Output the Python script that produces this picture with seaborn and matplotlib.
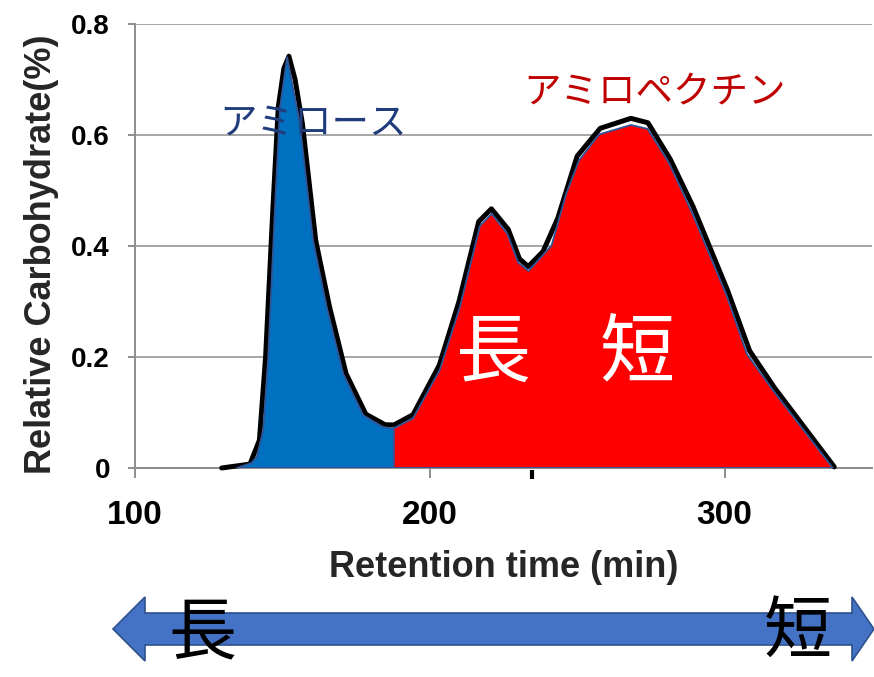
import matplotlib
matplotlib.use("Agg")
import matplotlib.pyplot as plt
from matplotlib.patches import Polygon
import seaborn as sns

# Retention time (min) / relative carbohydrate (%) of the amylose fraction
amylose_x = [134.5, 139.5, 141.3, 143.5, 145.2, 147.5, 149.2, 151.6, 155.9,
             160.4, 165.0, 170.6, 177.4, 184.0, 187.8]
amylose_y = [0.0, 0.009, 0.02, 0.068, 0.20, 0.47, 0.65, 0.74, 0.62,
             0.41, 0.29, 0.17, 0.095, 0.074, 0.071]

# Amylopectin fraction
amylopectin_x = [187.8, 194.3, 203.4, 210.2, 217.0, 221.0, 226.3, 230.0, 233.5,
                 241.3, 246.2, 250.6, 257.4, 268.2, 273.9, 281.3, 288.7, 300.6,
                 307.6, 316.4, 336.7]
amylopectin_y = [0.0715, 0.0895, 0.177, 0.29, 0.436, 0.458, 0.422, 0.37, 0.355,
                 0.401, 0.493, 0.554, 0.601, 0.618, 0.611, 0.548, 0.463, 0.312,
                 0.205, 0.14, 0.0]

# Full chromatogram trace
trace_x = [129.4, 139.0, 142.2, 144.3, 146.8, 148.6, 150.5, 152.2, 154.3, 156.8,
           161.3, 166.0, 171.6, 178.3, 184.8, 187.8, 194.3, 203.2, 209.9, 216.6,
           220.9, 226.6, 230.4, 233.4, 238.4, 243.4, 250.0, 257.8, 268.2, 274.0,
           281.6, 289.3, 301.0, 308.5, 317.0, 337.2]
trace_y = [0.0, 0.007, 0.05, 0.20, 0.47, 0.65, 0.72, 0.742, 0.70, 0.62,
           0.41, 0.29, 0.17, 0.097, 0.078, 0.0775, 0.096, 0.185, 0.30, 0.444,
           0.467, 0.43, 0.377, 0.363, 0.39, 0.45, 0.562, 0.612, 0.63, 0.622,
           0.556, 0.471, 0.32, 0.211, 0.144, 0.002]

x_ticks = [100, 200, 300]
y_ticks = [0, 0.2, 0.4, 0.6, 0.8]
y_tick_labels = ["0", "0.2", "0.4", "0.6", "0.8"]
mark_x = 234.7

sns.set_theme(style="white")
plt.rcParams["font.family"] = ["Liberation Sans", "Noto Sans CJK JP", "DejaVu Sans"]
JP = ["Noto Sans CJK JP", "DejaVu Sans"]

GRAY = "#8C8C8C"
GRID = "#A6A6A6"
EDGE = "#2F5597"

fig = plt.figure(figsize=(8.74, 6.77), dpi=100)
W, H = 874, 677
ax = fig.add_axes([135 / W, 1 - 468 / H, (872 - 135) / W, (468 - 24) / H])

ax.set_xlim(100, 350)
ax.set_ylim(0, 0.8)

# chromatogram outline behind the fractions
sns.lineplot(x=trace_x, y=trace_y, ax=ax, color="black", linewidth=3.6,
             sort=False, estimator=None, zorder=3)
for line in ax.lines:
    line.set_solid_joinstyle("round")
    line.set_solid_capstyle("round")
    line.set_clip_on(False)

# amylose and amylopectin areas
blue_poly = list(zip(amylose_x, amylose_y)) + [(amylose_x[-1], 0.0), (amylose_x[0], 0.0)]
red_poly = list(zip(amylopectin_x, amylopectin_y)) + [(amylopectin_x[0], 0.0)]
ax.add_patch(Polygon(blue_poly, closed=True, facecolor="#0070C0", edgecolor=EDGE,
                     linewidth=1.3, zorder=4, joinstyle="round"))
ax.add_patch(Polygon(red_poly, closed=True, facecolor="#FF0000", edgecolor=EDGE,
                     linewidth=1.3, zorder=4, joinstyle="round"))

# axes styling
ax.set_xticks(x_ticks)
ax.set_xticklabels([str(v) for v in x_ticks], fontsize=24, fontweight="bold")
ax.set_yticks(y_ticks)
ax.set_yticklabels(y_tick_labels, fontsize=20, fontweight="bold")
ax.yaxis.grid(True, color=GRID, linewidth=1.4)
ax.xaxis.grid(False)
ax.set_axisbelow(True)
for s in ["top", "right"]:
    ax.spines[s].set_visible(False)
for s in ["left", "bottom"]:
    ax.spines[s].set_color(GRAY)
    ax.spines[s].set_linewidth(1.4)
ax.tick_params(axis="y", direction="out", length=5, width=1.4, color=GRAY,
               pad=13, left=True, labelcolor="black")
ax.tick_params(axis="x", direction="out", length=7, width=1.4, color=GRAY,
               pad=16, bottom=True, labelcolor="black")

ax.set_xlabel("Retention time (min)", fontsize=26, fontweight="bold", labelpad=14)
ax.set_ylabel("Relative Carbohydrate(%)", fontsize=26, fontweight="bold")
ax.yaxis.label.set_va("center")
ax.yaxis.set_label_coords(-0.127, 0.482)

# black reference mark under the axis
ax.plot([mark_x, mark_x], [-0.003, -0.02], color="black", linewidth=3,
        solid_capstyle="butt", clip_on=False, zorder=5)

# fraction names
ax.text(160.3, 0.622, "アミロース", family=JP, fontsize=27, color="#203C7C",
        ha="center", va="center", zorder=6)
ax.text(276.3, 0.676, "アミロペクチン", family=JP, fontsize=27, color="#C00000",
        ha="center", va="center", zorder=6)
ax.text(221.7, 0.204, "長", family=JP, fontsize=54, color="white",
        ha="center", va="center", zorder=6)
ax.text(270.2, 0.205, "短", family=JP, fontsize=54, color="white",
        ha="center", va="center", zorder=6)

# double-headed arrow for chain length
arrow_px = [(113, 629), (145, 597), (145, 613), (852, 613), (852, 597),
            (874, 629), (852, 661), (852, 645), (145, 645), (145, 661)]
arrow = Polygon([(x / W, 1 - y / H) for x, y in arrow_px], closed=True,
                transform=fig.transFigure, facecolor="#4472C4",
                edgecolor="#2F528F", linewidth=1.2)
fig.add_artist(arrow)
fig.text(202 / W, 1 - 634 / H, "長", family=JP, fontsize=49, color="black",
         ha="center", va="center")
fig.text(798 / W, 1 - 633 / H, "短", family=JP, fontsize=49, color="black",
         ha="center", va="center")

fig.savefig("out.png", dpi=100)
